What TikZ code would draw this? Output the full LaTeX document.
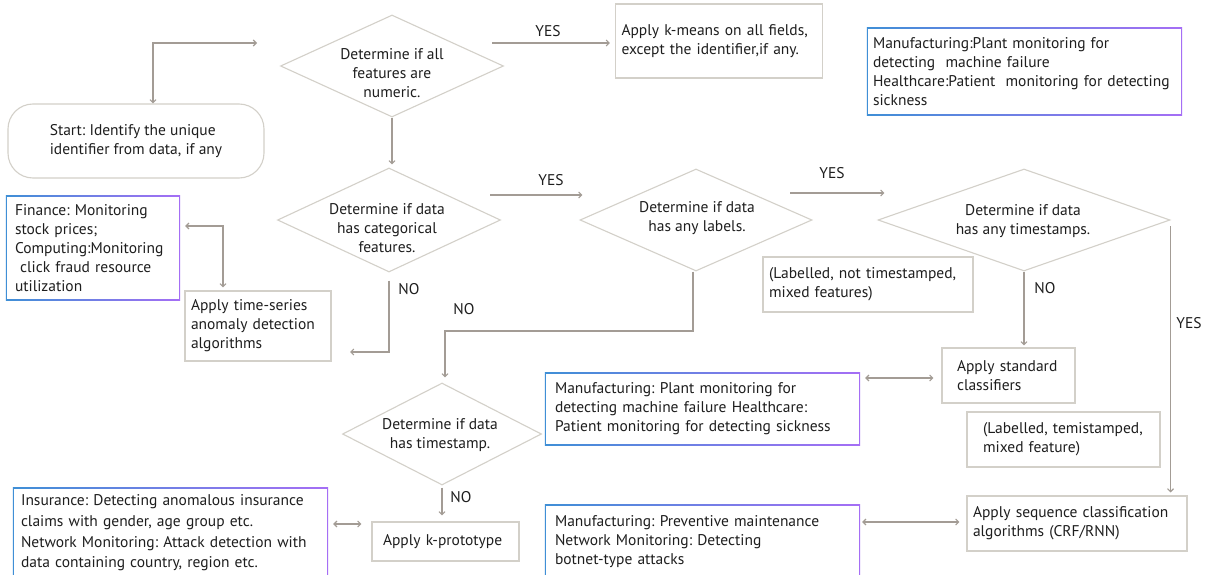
\documentclass[tikz,border=0pt]{standalone}
\usepackage{fontspec}
\setmainfont{PT Sans}
\frenchspacing
\hyphenpenalty=10000
\exhyphenpenalty=10000
\usetikzlibrary{arrows.meta,shapes.geometric,backgrounds}
\definecolor{lc}{HTML}{A39C95}
\definecolor{bc}{HTML}{D3D0C9}
\definecolor{gb}{HTML}{3F8FD6}
\definecolor{gp}{HTML}{A56EF5}
\definecolor{tc}{HTML}{1E1E1E}
\newcommand\gradframe[1]{%
  \shade[left color=gb,right color=gp] (#1.south west) rectangle (#1.north east);
  \fill[white] ([shift={(1.4pt,1.4pt)}]#1.south west) rectangle ([shift={(-1.4pt,-1.4pt)}]#1.north east);}
\begin{document}
\begin{tikzpicture}[x=1pt,y=-1pt, font=\fontsize{15.5}{19}\selectfont, text=tc,
  box/.style={draw=bc,line width=1.1pt,align=left,inner xsep=6pt,inner ysep=0pt},
  gbox/.style={align=left,inner xsep=10pt,inner ysep=0pt},
  dia/.style={diamond,draw=bc,line width=1.1pt,inner sep=0pt},
  dtext/.style={align=center},
  conn/.style={draw=lc,line width=1.1pt,-{Straight Barb[length=3pt,width=6pt]}},
  dconn/.style={draw=lc,line width=1.1pt,{Straight Barb[length=3pt,width=6pt]}-{Straight Barb[length=3pt,width=6pt]}}]

\useasboundingbox (0,0) rectangle (1209,575);
\begin{scope}[on background layer]
  \fill[white] (0,0) rectangle (1209,575);
\end{scope}

% start
\node[draw=bc,line width=1.1pt,rounded corners=25pt,minimum width=256pt,minimum height=74pt,align=left] (start) at (136,141) {Start: Identify the unique\\identifier from data, if any};

% diamonds
\node[dia,minimum width=223pt,minimum height=102pt] (d1) at (392,66) {};
\node[dtext] (d1t) at (392,73) {Determine if all\\features are\\numeric.};
\node[dia,minimum width=223pt,minimum height=104pt] (d2) at (389,220) {};
\node[dtext] (d2t) at (387,228) {Determine if data\\has categorical\\features.};
\node[dia,minimum width=232pt,minimum height=102pt] (d3) at (696,220) {};
\node[dtext] (d3t) at (697,218) {Determine if data\\has any labels.};
\node[dia,minimum width=292pt,minimum height=102pt] (d4) at (1024,220) {};
\node[dtext] (d4t) at (1023,221) {Determine if data\\has any timestamps.};
\node[dia,minimum width=199pt,minimum height=102pt] (d5) at (442,434) {};
\node[dtext] (d5t) at (440,435) {Determine if data\\has timestamp.};

% plain boxes
\node[box,text width=195pt,minimum height=74pt] (km) at (719,41) {Apply k-means on all fields,\\except the identifier,if any.};
\node[box,text width=134pt,minimum height=70pt] (ts) at (258,326) {Apply time-series\\anomaly detection\\algorithms};
\node[box,inner xsep=11pt,text width=125pt,minimum height=39pt] (kp) at (445.5,541.5) {Apply k-prototype};
\node[box,inner xsep=15pt,text width=103pt,minimum height=55pt] (std) at (1008.5,375.5) {Apply standard\\classifiers};
\node[box,text width=198pt,minimum height=55pt] (lnt) at (868,284.5) {(Labelled, not timestamped,\\mixed features)};
\node[box,inner xsep=16pt,text width=161pt,minimum height=55pt] (lt) at (1063.5,439.5) {(Labelled, temistamped,\\mixed feature)};
\node[box,text width=208pt,minimum height=55pt] (seq) at (1077,523.5) {Apply sequence classification\\algorithms (CRF/RNN)};

% gradient boxes
\node[gbox,inner xsep=6pt,text width=303pt,minimum height=87pt] (g1) at (1024.5,71.5) {Manufacturing:Plant monitoring for\\detecting\ \ machine failure\\Healthcare:Patient\ \ monitoring for detecting\\sickness};
\node[gbox,text width=295pt,minimum height=72pt] (g2) at (702.5,409) {Manufacturing: Plant monitoring for\\detecting machine failure Healthcare:\\Patient monitoring for detecting sickness};
\node[gbox,text width=295pt,minimum height=74pt] (g3) at (702.5,542) {Manufacturing: Preventive maintenance\\Network Monitoring: Detecting\\botnet-type attacks};
\node[gbox,inner xsep=8pt,text width=299pt,minimum height=90pt,font=\fontsize{15.5}{20.7}\selectfont] (g4) at (170.5,533) {Insurance: Detecting anomalous insurance\\claims with gender, age group etc.\\Network Monitoring: Attack detection with\\data containing country, region etc.};
\node[gbox,inner xsep=9pt,text width=156pt,minimum height=104pt] (g5) at (93,248) {Finance: Monitoring\\stock prices;\\Computing:Monitoring\\\ click fraud resource\\utilization};
\begin{scope}[on background layer]
  \gradframe{g1}\gradframe{g2}\gradframe{g3}\gradframe{g4}\gradframe{g5}
\end{scope}

% connectors
\coordinate (c0) at (153,43);
\coordinate (c1) at (257,43);
\draw[dconn] (start.north -| c0) |- (c1);

\coordinate (y1a) at (492,43);
\draw[conn,shorten >=5pt] (y1a) -- (y1a -| km.west);
\node at (548,31) {YES};

\draw[conn,shorten >=3pt] (d1.south) -- (d1.south |- d2.north);

\coordinate (y2a) at (490,195);
\draw[conn] (y2a) -- ([xshift=3pt]y2a -| d3.west);
\node at (551,180) {YES};

\coordinate (y3a) at (790,193);
\draw[conn] (y3a) -- ([xshift=7pt]y3a -| d4.west);
\node at (832,173) {YES};

\draw[conn,shorten >=3pt] ([yshift=-6pt]d4.east) -- (d4.east |- seq.north);
\node at (1189,323) {YES};

\draw[conn,shorten >=2pt] (d4.south) -- (d4.south |- std.north);
\node at (1045,288) {NO};

\coordinate (n2) at (350,352);
\draw[conn] ([yshift=-8pt]d2.south) |- (n2);
\node at (409,289) {NO};

\coordinate (n3) at (445,331);
\draw[conn,shorten >=5pt] ([xshift=-3pt]d3.south) -- ([xshift=-3pt]d3.south |- n3) -| ([xshift=3pt]d5.north);
\node at (464,309) {NO};

\draw[conn,shorten >=6pt] ([yshift=-2pt]d5.south) -- (d5.south |- kp.north);
\node at (461,497) {NO};

\coordinate (f1) at (223,226);
\draw[dconn,shorten <=5pt,shorten >=3pt] (g5.east |- f1) -| (ts.north -| f1);

\draw[dconn,shorten <=5pt,shorten >=8pt] (g2.east |- 0,378) -- (std.west |- 0,378);
\draw[dconn,shorten <=2pt,shorten >=7pt] (g3.east |- 0,522) -- (seq.west |- 0,522);
\draw[dconn,shorten <=5pt,shorten >=10pt] (g4.east |- 0,524) -- (kp.west |- 0,524);

\end{tikzpicture}
\end{document}
